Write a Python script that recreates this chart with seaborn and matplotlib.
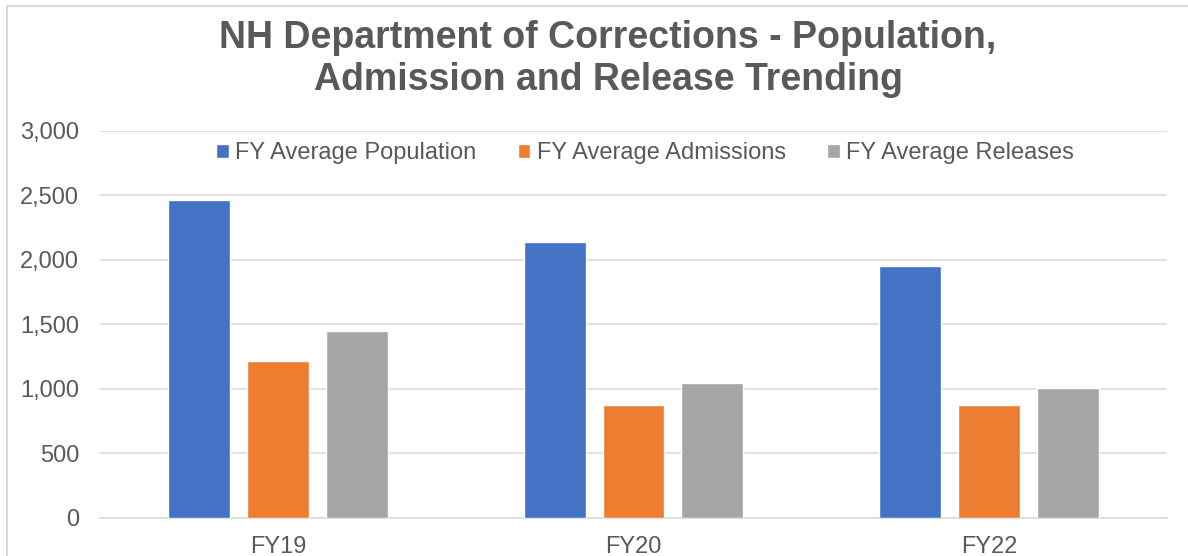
import matplotlib
matplotlib.use("Agg")
import matplotlib.pyplot as plt
from matplotlib.lines import Line2D
from matplotlib.ticker import FuncFormatter
import seaborn as sns
import pandas as pd

categories = ["FY19", "FY20", "FY22"]
series_names = ["FY Average Population", "FY Average Admissions", "FY Average Releases"]
population = [2460, 2138, 1950]
admissions = [1218, 874, 874]
releases = [1451, 1042, 1009]
colors = ["#4472C4", "#ED7D31", "#A5A5A5"]
title = "NH Department of Corrections - Population,\nAdmission and Release Trending"

rows = []
for name, vals in zip(series_names, [population, admissions, releases]):
    for c, v in zip(categories, vals):
        rows.append({"Year": c, "Series": name, "Value": v})
df = pd.DataFrame(rows)

sns.set_theme(style="white")
plt.rcParams["font.family"] = ["Liberation Sans", "DejaVu Sans"]
text_color = "#595959"
grid_color = "#D9D9D9"

fig = plt.figure(figsize=(11.88, 5.56), dpi=100)
W, H = 1188, 556
ax = fig.add_axes([100 / W, 1 - 517.7 / H, (1167 - 100) / W, (517.7 - 130.7) / H])

sns.barplot(data=df, x="Year", y="Value", hue="Series", order=categories,
            hue_order=series_names, palette=colors, width=0.666, gap=0.215,
            saturation=1, ax=ax, errorbar=None, zorder=3)

ax.set_ylim(0, 3000)
ax.set_xlim(-0.5, 2.5)
ax.set_yticks([0, 500, 1000, 1500, 2000, 2500, 3000])
ax.yaxis.set_major_formatter(FuncFormatter(lambda v, p: f"{int(v):,}"))
ax.grid(axis="y", color=grid_color, linewidth=1.1, zorder=0)
ax.set_axisbelow(True)
for s in ["top", "right", "left"]:
    ax.spines[s].set_visible(False)
ax.spines["bottom"].set_color(grid_color)
ax.spines["bottom"].set_linewidth(1.1)
ax.set_xlabel("")
ax.set_ylabel("")
ax.tick_params(axis="y", length=0, pad=15, labelsize=17, labelcolor=text_color)
ax.tick_params(axis="x", length=0, pad=13, labelsize=17, labelcolor=text_color)

handles, labels = ax.get_legend_handles_labels()
leg = ax.legend(handles, labels, loc="center", bbox_to_anchor=(0.511, 0.942), ncol=3,
                frameon=False, fontsize=17, handlelength=0.52, handleheight=0.52,
                handletextpad=0.28, columnspacing=1.75)
for t in leg.get_texts():
    t.set_color(text_color)

fig.text(608 / W, 1 - 59 / H, title, ha="center", va="center", fontsize=27,
         fontweight="bold", color=text_color, linespacing=1.2)

fig.add_artist(Line2D([7 / W, 7 / W], [0, 1 - 6 / H], transform=fig.transFigure,
                      color=grid_color, linewidth=1.5))
fig.add_artist(Line2D([7 / W, 1], [1 - 6 / H, 1 - 6 / H], transform=fig.transFigure,
                      color=grid_color, linewidth=1.5))

fig.savefig("out.png", dpi=100)
